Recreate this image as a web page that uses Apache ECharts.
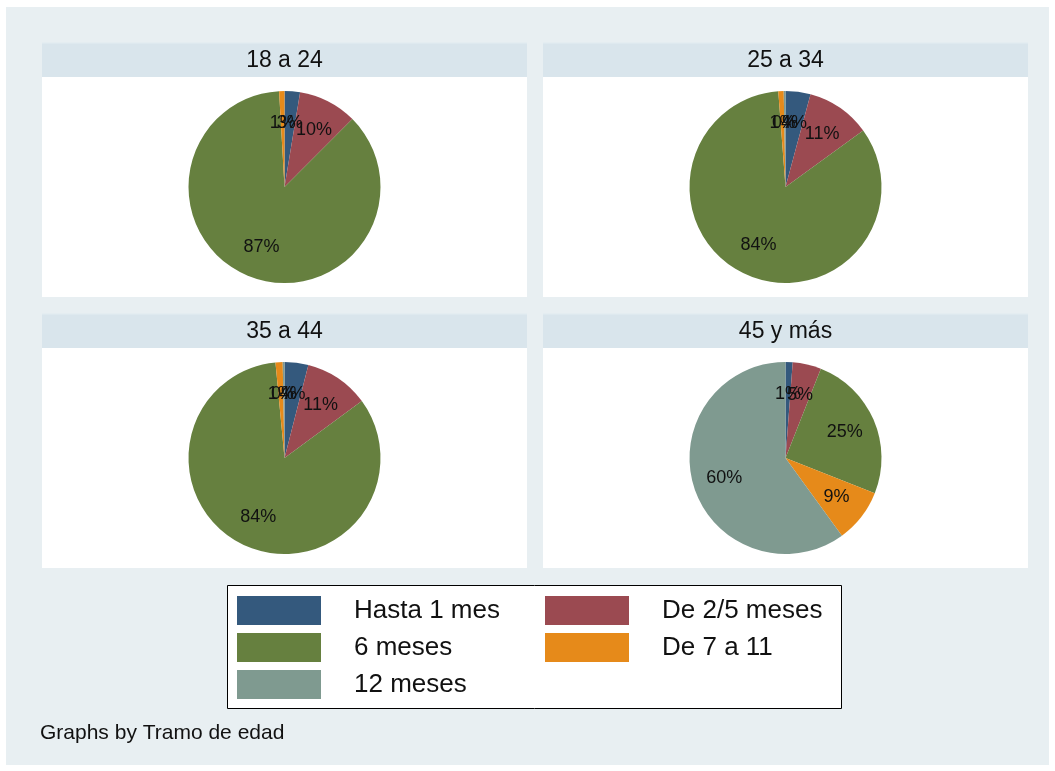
<!DOCTYPE html>
<html><head><meta charset="utf-8">
<script src="https://cdn.jsdelivr.net/npm/echarts@6/dist/echarts.min.js"></script>
<style>html,body{margin:0;padding:0;background:#fff}#c{width:1055px;height:771px}</style>
</head><body><div id="c"></div>
<script>
const categories = ['Hasta 1 mes','De 2/5 meses','6 meses','De 7 a 11','12 meses'];
const panels = ['18 a 24','25 a 34','35 a 44','45 y más'];
const v18a24 = [2.6, 9.9, 86.6, 0.9, 0];
const v25a34 = [4.2, 10.8, 83.8, 0.9, 0.3];
const v35a44 = [4.0, 10.9, 83.6, 1.2, 0.3];
const v45ymas = [1.2, 4.8, 25.0, 9.0, 60.0];
const values = [v18a24, v25a34, v35a44, v45ymas];
const colors = ['#34597d','#9b4a51','#66803f','#e68a1a','#7f9a90'];
const note = 'Graphs by Tramo de edad';

const chart = echarts.init(document.getElementById('c'), null, {renderer:'canvas'});
const FONT = '"Liberation Sans", Arial, sans-serif';
const panelBoxes = [
  {x:42, y:42}, {x:543, y:42}, {x:42, y:313}, {x:543, y:313}
];
const PW = 485, HH = 35, PH = 220, R = 96;
const graphics = [
  {type:'rect', shape:{x:6, y:7, width:1043, height:758}, style:{fill:'#e8eff2'}, z:-10}
];
panelBoxes.forEach((b,i)=>{
  graphics.push({type:'rect', shape:{x:b.x, y:b.y, width:PW, height:HH}, style:{fill:'#d9e5ec'}, z:-5});
  graphics.push({type:'rect', shape:{x:b.x, y:b.y, width:PW, height:1.5}, style:{fill:'#e4edf1'}, z:-4});
  graphics.push({type:'rect', shape:{x:b.x, y:b.y+HH, width:PW, height:PH}, style:{fill:'#ffffff'}, z:-5});
  graphics.push({type:'text', x:b.x+PW/2, y:b.y+HH/2+1, style:{text:panels[i], fill:'#111', font:'23px '+FONT, textAlign:'center', textVerticalAlign:'middle'}, z:5});
});
graphics.push({type:'rect', shape:{x:227.5, y:585.5, width:614, height:123}, style:{fill:'#fff', stroke:'#000', lineWidth:1}, z:-3});
graphics.push({type:'text', x:40, y:733, style:{text:note, fill:'#111', font:'21px '+FONT, textAlign:'left', textVerticalAlign:'middle'}, z:5});

const series = [];
panelBoxes.forEach((b,i)=>{
  const cx = b.x+PW/2, cy = b.y+HH+PH/2;
  const data = categories.map((c,k)=>({name:c, value:values[i][k], itemStyle:{color:colors[k]}}));
  series.push({type:'pie', center:[cx,cy], radius:[0,R], startAngle:90, clockwise:true, avoidLabelOverlap:false,
    label:{show:false}, labelLine:{show:false}, emphasis:{disabled:true}, silent:true, animation:false,
    itemStyle:{borderWidth:0}, data});
});
// label overlay: one transparent ring per category so overlapping labels all stay visible
panelBoxes.forEach((b,i)=>{
  const cx = b.x+PW/2, cy = b.y+HH+PH/2;
  categories.forEach((cat,j)=>{
    const data = categories.map((c,k)=>({name:c, value:values[i][k], itemStyle:{color:'rgba(0,0,0,0)'},
      label:{show: k===j && values[i][k]>0}}));
    series.push({type:'pie', center:[cx,cy], radius:[R*0.28,R], startAngle:90, clockwise:true, avoidLabelOverlap:false,
      minShowLabelAngle:0, labelLayout:{hideOverlap:false},
      label:{show:true, position:'inside', color:'#111', fontSize:18, fontFamily:FONT,
        formatter:p=> Math.round(p.value)+'%'},
      labelLine:{show:false}, emphasis:{disabled:true}, silent:true, animation:false, z:4,
      itemStyle:{borderWidth:0}, data});
  });
});

chart.setOption({
  animation:false,
  color:colors,
  graphic:graphics,
  legend:[
    {data:['Hasta 1 mes','6 meses','12 meses'], orient:'vertical', left:232, top:591, itemWidth:84, itemHeight:29, itemGap:8,
     icon:'rect', selectedMode:false, textStyle:{fontSize:26, fontFamily:FONT, color:'#111', padding:[0,0,0,28]}},
    {data:['De 2/5 meses','De 7 a 11'], orient:'vertical', left:540, top:591, itemWidth:84, itemHeight:29, itemGap:8,
     icon:'rect', selectedMode:false, textStyle:{fontSize:26, fontFamily:FONT, color:'#111', padding:[0,0,0,28]}}
  ],
  series
});
</script></body></html>
